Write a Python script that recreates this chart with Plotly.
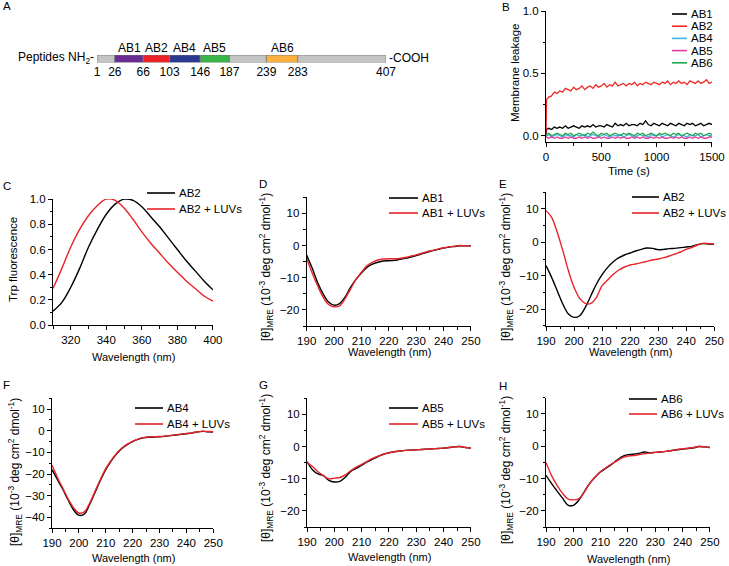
"""Figura multipainel: mapa de peptideos, vazamento de membrana, Trp e CD."""

import plotly.graph_objects as go

W, H = 729, 566
FONT = "Arial, Liberation Sans, sans-serif"
RED = "#e8232a"

# --- Painel A: mapa dos peptideos -------------------------------------------
SEGMENT_NAMES = ["", "AB1", "AB2", "AB4", "AB5", "", "AB6", ""]
SEGMENT_START = [1, 26, 66, 103, 146, 187, 239, 283]
SEGMENT_END = [26, 66, 103, 146, 187, 239, 283, 407]
RESIDUE_TICKS = [1, 26, 66, 103, 146, 187, 239, 283, 407]
SEGMENT_COLORS = ["#c4c4c4", "#6b2c91", "#ec2227", "#2b3990", "#39b54a",
                  "#c4c4c4", "#fbb040", "#c4c4c4"]

# --- Painel B: vazamento de membrana ----------------------------------------
LEAKAGE_NAMES = ["AB1", "AB2", "AB4", "AB5", "AB6"]
LEAKAGE_TIME = [0, 5, 25, 50, 75, 100, 125, 150, 175, 200, 225, 250, 275, 300,
                325, 350, 375, 400, 425, 450, 475, 500, 525, 550, 575, 600,
                625, 650, 675, 700, 725, 750, 775, 800, 825, 850, 875, 900,
                925, 950, 975, 1000, 1025, 1050, 1075, 1100, 1125, 1150, 1175,
                1200, 1225, 1250, 1275, 1300, 1325, 1350, 1375, 1400, 1425,
                1450, 1475, 1500]
LEAKAGE_AB1 = [0.00, 0.05, 0.06, 0.05, 0.07, 0.06, 0.07, 0.06, 0.08, 0.06,
               0.07, 0.08, 0.07, 0.06, 0.08, 0.07, 0.08, 0.07, 0.09, 0.07,
               0.08, 0.08, 0.07, 0.09, 0.08, 0.07, 0.10, 0.08, 0.09, 0.08,
               0.10, 0.08, 0.09, 0.09, 0.08, 0.10, 0.09, 0.12, 0.09, 0.08,
               0.10, 0.09, 0.08, 0.10, 0.09, 0.08, 0.10, 0.09, 0.08, 0.10,
               0.09, 0.08, 0.10, 0.09, 0.10, 0.08, 0.09, 0.10, 0.08, 0.09,
               0.10, 0.09]
LEAKAGE_AB2 = [0.00, 0.29, 0.31, 0.32, 0.35, 0.34, 0.36, 0.35, 0.38, 0.37,
               0.36, 0.39, 0.37, 0.38, 0.40, 0.37, 0.39, 0.40, 0.38, 0.41,
               0.39, 0.40, 0.42, 0.39, 0.41, 0.40, 0.43, 0.40, 0.41, 0.42,
               0.40, 0.42, 0.41, 0.43, 0.40, 0.42, 0.41, 0.43, 0.42, 0.41,
               0.43, 0.42, 0.41, 0.43, 0.42, 0.44, 0.41, 0.43, 0.42, 0.44,
               0.42, 0.43, 0.41, 0.44, 0.43, 0.42, 0.44, 0.42, 0.43, 0.45,
               0.42, 0.43]
LEAKAGE_AB4 = [0.00, 0.00, 0.01, -0.01, 0.00, 0.01, 0.00, -0.01, 0.01, 0.00,
               0.00, -0.01, 0.01, 0.00, 0.00, 0.01, -0.01, 0.00, 0.01, 0.00,
               -0.01, 0.00, 0.01, 0.00, -0.01, 0.01, 0.00, 0.00, 0.01, -0.01,
               0.00, 0.01, 0.00, -0.01, 0.00, 0.01, 0.00, 0.00, -0.01, 0.01,
               0.00, 0.00, 0.01, -0.01, 0.00, 0.01, 0.00, -0.01, 0.00, 0.01,
               0.00, 0.00, -0.01, 0.01, 0.00, 0.00, 0.01, -0.01, 0.00, 0.01,
               0.00, 0.00]
LEAKAGE_AB5 = [0.00, -0.01, -0.02, -0.01, -0.02, -0.01, -0.02, -0.02, -0.01,
               -0.02, -0.01, -0.02, -0.02, -0.01, -0.02, -0.01, -0.02, -0.01,
               -0.02, -0.02, -0.01, -0.02, -0.01, -0.02, -0.02, -0.01, -0.02,
               -0.01, -0.02, -0.01, -0.02, -0.02, -0.01, -0.02, -0.01, -0.02,
               -0.01, -0.02, -0.02, -0.01, -0.02, -0.01, -0.02, -0.01, -0.02,
               -0.02, -0.01, -0.02, -0.01, -0.02, -0.01, -0.02, -0.02, -0.01,
               -0.02, -0.01, -0.02, -0.01, -0.02, -0.02, -0.01, -0.01]
LEAKAGE_AB6 = [0.00, 0.01, 0.02, 0.00, 0.01, 0.02, 0.01, 0.00, 0.02, 0.01,
               0.02, 0.00, 0.01, 0.02, 0.01, 0.00, 0.02, 0.01, 0.03, 0.01,
               0.00, 0.02, 0.01, 0.02, 0.00, 0.01, 0.02, 0.01, 0.00, 0.02,
               0.01, 0.02, 0.01, 0.00, 0.02, 0.01, 0.02, 0.00, 0.01, 0.02,
               0.01, 0.00, 0.02, 0.01, 0.02, 0.01, 0.00, 0.02, 0.01, 0.02,
               0.00, 0.01, 0.02, 0.01, 0.00, 0.02, 0.01, 0.02, 0.00, 0.01,
               0.02, 0.01]
LEAKAGE_COLORS = ["#000000", "#ee2a24", "#3fb3e4", "#e6399b", "#1ea64a"]

# --- Painel C: fluorescencia de Trp -----------------------------------------
TRP_WAVELENGTH = [310, 315, 320, 325, 330, 335, 340, 345, 350, 355, 360, 365,
                  370, 375, 380, 385, 390, 395, 400]
TRP_AB2 = [0.11, 0.18, 0.30, 0.45, 0.62, 0.76, 0.88, 0.96, 1.00, 0.99, 0.94,
           0.86, 0.78, 0.69, 0.60, 0.51, 0.43, 0.35, 0.28]
TRP_AB2_LUV = [0.29, 0.45, 0.62, 0.76, 0.87, 0.95, 1.00, 0.99, 0.93, 0.84,
               0.74, 0.65, 0.57, 0.49, 0.42, 0.35, 0.29, 0.23, 0.19]

# --- Paineis D-H: dicroismo circular ----------------------------------------
CD_WAVELENGTH = [190, 192, 194, 196, 198, 200, 202, 204, 206, 208, 210, 212,
                 214, 216, 218, 220, 222, 224, 226, 228, 230, 232, 234, 236,
                 238, 240, 242, 244, 246, 248, 250]
CD_AB1 = [-3, -7, -11.5, -15, -17.5, -18.5, -18, -16, -13, -10.5, -8.5, -6.8,
          -5.8, -5.2, -4.8, -4.7, -4.6, -4.3, -4, -3.6, -3.1, -2.6, -2.1,
          -1.6, -1.2, -0.8, -0.5, -0.3, -0.1, -0.1, -0.1]
CD_AB1_LUV = [-4, -8.5, -12.5, -16, -18.3, -19, -18.7, -16.5, -13.5, -10.5,
              -8.3, -6.3, -5.2, -4.5, -4.2, -4.1, -4.1, -4.0, -3.7, -3.3,
              -2.9, -2.4, -1.9, -1.5, -1.1, -0.7, -0.4, -0.2, 0.0, -0.1, -0.1]
CD_AB2 = [-7, -10.5, -14.5, -18.5, -21.5, -22.5, -22, -19.5, -16, -12.5,
          -9.7, -7.5, -5.8, -4.6, -3.8, -3.2, -2.6, -2.1, -1.7, -1.8, -2.2,
          -2.1, -1.9, -1.8, -1.6, -1.4, -1.2, -0.7, -0.4, -0.5, -0.6]
CD_AB2_LUV = [9.5, 7.5, 3, -2.5, -8.5, -13.5, -16.8, -18.3, -18.3, -16.5,
              -13, -11.3, -9.6, -8.3, -7.4, -6.8, -6.5, -6.1, -5.7, -5.3, -5,
              -4.6, -4.1, -3.5, -2.9, -2.1, -1.5, -0.8, -0.3, -0.4, -0.5]
CD_AB4 = [-18, -22.5, -27, -32, -36.5, -39, -38.5, -34, -28.5, -23, -18, -14,
          -10.8, -8.2, -6.4, -5, -4, -3.3, -3, -2.9, -2.8, -2.6, -2.3, -2,
          -1.7, -1.4, -1.1, -0.6, -0.3, -0.5, -0.6]
CD_AB4_LUV = [-16, -21.5, -26.5, -31.5, -35.5, -38, -37.5, -33.5, -28, -22.5,
              -17.5, -13.7, -10.5, -8, -6.2, -4.9, -3.9, -3.2, -2.9, -2.8,
              -2.7, -2.5, -2.2, -1.9, -1.6, -1.3, -1.0, -0.6, -0.2, -0.4, -0.5]
CD_AB5 = [-4.7, -7.2, -8.5, -9, -10.5, -11, -10.8, -9.5, -7.7, -6.8, -5.8,
          -4.8, -3.9, -3.1, -2.4, -1.9, -1.6, -1.4, -1.2, -1.1, -1.0, -0.9,
          -0.8, -0.7, -0.6, -0.5, -0.3, -0.1, 0.0, -0.3, -0.5]
CD_AB5_LUV = [-5, -6.2, -7.8, -9, -10, -9.8, -9.6, -8.8, -7.5, -6.4, -5.5,
              -4.6, -3.7, -3, -2.4, -2, -1.6, -1.4, -1.2, -1.1, -1.0, -0.9,
              -0.8, -0.7, -0.6, -0.5, -0.3, -0.1, 0.0, -0.3, -0.5]
CD_AB6 = [-9, -11.5, -13.8, -16, -18.2, -18.3, -16.7, -14.1, -11.5, -9.5,
          -7.9, -6.8, -5.6, -4.3, -3.1, -2.6, -2.5, -2.2, -1.8, -2.0, -1.9,
          -1.8, -1.6, -1.3, -1.1, -0.9, -0.7, -0.5, -0.1, -0.2, -0.4]
CD_AB6_LUV = [-5, -9, -12, -14.5, -16.3, -16.6, -16.3, -14.2, -11.5, -9.5,
              -7.8, -6.6, -5.5, -4.5, -3.5, -3.0, -2.9, -2.6, -2.3, -2.1, -1.9,
              -1.8, -1.6, -1.3, -1.0, -0.8, -0.6, -0.4, -0.1, -0.2, -0.4]

CD_TITLE = ("[θ]<sub>MRE</sub> (10<sup>-3</sup> deg cm<sup>2</sup> "
            "dmol<sup>-1</sup>)")


def fx(px):
    return px / W


def fy(py):
    return 1 - py / H


def axis_style(domain_px, rng, dtick, minor_dtick, anchor, vertical):
    if vertical:
        domain = [fy(domain_px[1]), fy(domain_px[0])]
    else:
        domain = [fx(domain_px[0]), fx(domain_px[1])]
    return dict(
        domain=domain, range=rng, anchor=anchor,
        showline=True, linecolor="black", linewidth=1,
        ticks="outside", ticklen=4, tickwidth=1, tickcolor="black",
        tickmode="linear", tick0=0, dtick=dtick,
        minor=dict(ticks="outside", ticklen=2.5, tickwidth=1,
                   tickcolor="black", dtick=minor_dtick, tick0=0),
        tickfont=dict(family=FONT, size=11.5, color="black"),
        showgrid=False, zeroline=False, fixedrange=True, automargin=False,
    )


def text(fig, x, y, s, size=11, angle=0, xanchor="center"):
    fig.add_annotation(
        x=fx(x), y=fy(y), xref="paper", yref="paper", text=s,
        showarrow=False, textangle=angle, xanchor=xanchor, yanchor="middle",
        font=dict(family=FONT, size=size, color="black"),
    )


def add_legend(fig, x0, x1, rows, names, colors, size=11.5):
    """Legenda compacta: linha curta + texto, como no estilo GraphPad."""
    for row_y, name, color in zip(rows, names, colors):
        fig.add_shape(type="line", xref="paper", yref="paper",
                      x0=fx(x0), x1=fx(x1), y0=fy(row_y), y1=fy(row_y),
                      line=dict(color=color, width=1.6))
        text(fig, x1 + 2, row_y, name, size=size, xanchor="left")


fig = go.Figure()

# Painel A
fig.add_trace(go.Bar(
    y=[0] * len(SEGMENT_START),
    x=[e - s for s, e in zip(SEGMENT_START, SEGMENT_END)],
    base=SEGMENT_START, orientation="h", width=1,
    marker=dict(color=SEGMENT_COLORS, line=dict(color="#777777", width=0.8)),
    xaxis="x", yaxis="y", showlegend=False, hoverinfo="skip",
))
for name, s, e in zip(SEGMENT_NAMES, SEGMENT_START, SEGMENT_END):
    if name:
        fig.add_annotation(
            x=(s + e) / 2, y=fy(48), xref="x", yref="paper", text=name,
            showarrow=False, yanchor="middle",
            font=dict(family=FONT, size=12, color="black"),
        )

# Painel B
leak_series = [LEAKAGE_AB1, LEAKAGE_AB2, LEAKAGE_AB4, LEAKAGE_AB5, LEAKAGE_AB6]
for name, values, color in zip(LEAKAGE_NAMES, leak_series, LEAKAGE_COLORS):
    fig.add_trace(go.Scatter(
        x=LEAKAGE_TIME, y=values, mode="lines", name=name,
        line=dict(color=color, width=1.3), xaxis="x2", yaxis="y2",
        showlegend=False,
    ))

# Painel C
fig.add_trace(go.Scatter(
    x=TRP_WAVELENGTH, y=TRP_AB2, mode="lines", name="AB2",
    line=dict(color="black", width=1.4, shape="spline"),
    xaxis="x3", yaxis="y3", showlegend=False,
))
fig.add_trace(go.Scatter(
    x=TRP_WAVELENGTH, y=TRP_AB2_LUV, mode="lines", name="AB2 + LUVs",
    line=dict(color=RED, width=1.4, shape="spline"),
    xaxis="x3", yaxis="y3", showlegend=False,
))

# Paineis D-H: (nome, livre, com LUVs, eixo, legenda x0, x1, linhas)
cd_panels = [
    ("AB1", CD_AB1, CD_AB1_LUV, 4, 389, 418, [198, 213]),
    ("AB2", CD_AB2, CD_AB2_LUV, 5, 632, 659, [197, 213]),
    ("AB4", CD_AB4, CD_AB4_LUV, 6, 135, 163, [408, 424]),
    ("AB5", CD_AB5, CD_AB5_LUV, 7, 389, 418, [408, 424]),
    ("AB6", CD_AB6, CD_AB6_LUV, 8, 629, 657, [399, 414]),
]
for name, free, luv, n, lx0, lx1, rows in cd_panels:
    fig.add_trace(go.Scatter(
        x=CD_WAVELENGTH, y=free, mode="lines", name=name,
        line=dict(color="black", width=1.4, shape="spline"),
        xaxis=f"x{n}", yaxis=f"y{n}", showlegend=False,
    ))
    fig.add_trace(go.Scatter(
        x=CD_WAVELENGTH, y=luv, mode="lines", name=f"{name} + LUVs",
        line=dict(color=RED, width=1.4, shape="spline"),
        xaxis=f"x{n}", yaxis=f"y{n}", showlegend=False,
    ))
    add_legend(fig, lx0, lx1, rows, [name, f"{name} + LUVs"], ["black", RED])

layout = dict(
    width=W, height=H,
    margin=dict(l=0, r=0, t=0, b=0, pad=0, autoexpand=False),
    paper_bgcolor="white", plot_bgcolor="white",
    font=dict(family=FONT, color="black"),
    showlegend=False,
)

# eixos do painel A
layout["xaxis"] = dict(
    domain=[fx(97), fx(386)], range=[1, 407], anchor="y",
    showline=False, showgrid=False, zeroline=False, ticks="",
    tickmode="array", tickvals=RESIDUE_TICKS,
    ticktext=[str(v) for v in RESIDUE_TICKS],
    tickfont=dict(family=FONT, size=12, color="black"), fixedrange=True,
    automargin=False,
)
layout["yaxis"] = dict(
    domain=[fy(62.5), fy(55)], range=[-0.5, 0.5], anchor="x",
    visible=False, fixedrange=True,
)

layout["xaxis2"] = axis_style([546, 712], [0, 1500.5], 500, 250, "y2", False)
layout["yaxis2"] = axis_style([11, 142], [-0.05, 1.001], 0.5, 0.25, "x2", True)
layout["yaxis2"]["tickformat"] = ".1f"

layout["xaxis3"] = axis_style([53, 213], [310, 400.05], 20, 10, "y3", False)
layout["yaxis3"] = axis_style([199, 325], [0, 1.001], 0.2, 0.1, "x3", True)
layout["yaxis3"]["tickformat"] = ".1f"

cd_domains = {
    4: ([306.7, 471], [197.2, 326.1], [-25, 15]),
    5: ([546, 714.3], [192.3, 325.7], [-25, 15]),
    6: ([52, 213.3], [398.2, 528.2], [-45, 15]),
    7: ([307, 471], [398.2, 527.1], [-25, 15]),
    8: ([546, 710], [397.8, 527], [-25, 15]),
}
for n, (xd, yd, yr) in cd_domains.items():
    layout[f"xaxis{n}"] = axis_style(xd, [190, 250.02], 10, 5, f"y{n}", False)
    layout[f"yaxis{n}"] = axis_style(yd, yr, 10, 5, f"x{n}", True)

fig.update_layout(**layout)

# legendas compactas (B tem cinco itens em pouco espaco)
add_legend(fig, 672, 687, [14, 26.2, 38.4, 50.6, 62.8], LEAKAGE_NAMES,
           LEAKAGE_COLORS)
add_legend(fig, 147, 175, [193, 209], ["AB2", "AB2 + LUVs"], ["black", RED])

# textos fixos
text(fig, 96, 58, "Peptides NH<sub>2</sub>-", size=12, xanchor="right")
text(fig, 387, 58, "-COOH", size=12, xanchor="left")

text(fig, 515, 73, "Membrane leakage", size=11.5, angle=-90)
text(fig, 629, 171, "Time (s)", size=11.5)
text(fig, 13, 260, "Trp fluorescence", size=11.5, angle=-90)
text(fig, 133, 357, "Wavelength (nm)", size=11)

for x_title, y_title, x_center, y_axis_title in [
    (389, 352, 266, 267), (630, 352, 506, 267), (133, 558, 15, 472),
    (389, 557, 266, 468), (628, 559, 506, 470),
]:
    text(fig, x_title, y_title, "Wavelength (nm)", size=11)
    text(fig, x_center, y_axis_title, CD_TITLE, size=12, angle=-90)

for letter, x, y in [("A", 1, 6), ("B", 500, 7), ("C", 1, 186),
                     ("D", 257, 184), ("E", 497, 184), ("F", 1, 385),
                     ("G", 257, 385), ("H", 497, 386)]:
    text(fig, x, y, letter, size=11.5, xanchor="left")

# a pagina padrao tem margem de 8 px no body; zera para alinhar a figura
fig.write_html("out.html", config={"displayModeBar": False},
               post_script="document.body.style.margin = '0';")
